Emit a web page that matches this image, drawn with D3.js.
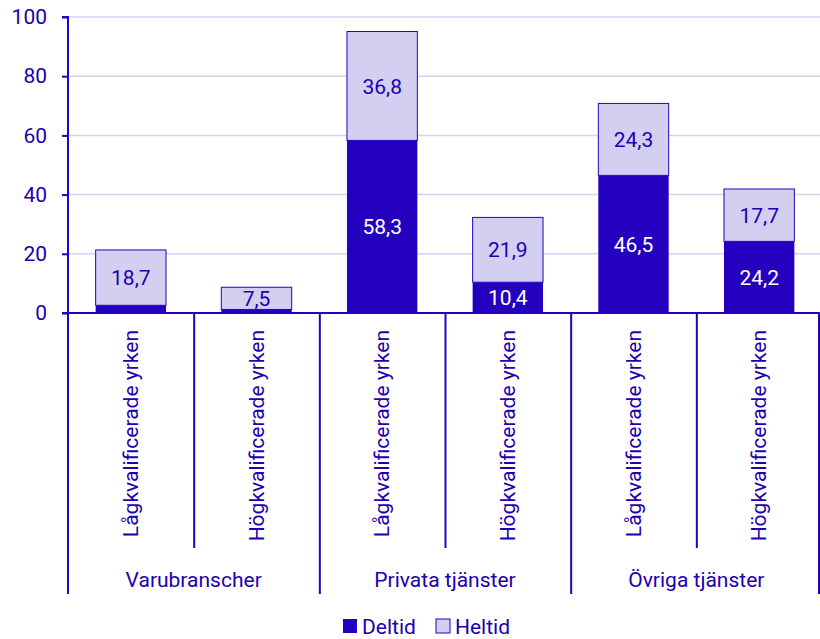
<!DOCTYPE html>
<html>
<head>
<meta charset="utf-8">
<script src="https://cdn.jsdelivr.net/npm/d3@7"></script>
<style>
  body { margin: 0; background: #fff; }
  text { font-family: Roboto, sans-serif; }
</style>
</head>
<body>
<div id="chart"></div>
<script>
var width = 820,
  height = 639,
  margin = { top: 17, right: 0, bottom: 326, left: 68 },
  fontSize = 21;

var groups = ['Varubranscher', 'Privata tjänster', 'Övriga tjänster'];
var occupations = ['Lågkvalificerade yrken', 'Högkvalificerade yrken'];
var deltid = [2.6, 1.2, 58.3, 10.4, 46.5, 24.2];
var heltid = [18.7, 7.5, 36.8, 21.9, 24.3, 17.7];
var deltidLabels = [null, null, '58,3', '10,4', '46,5', '24,2'];
var heltidLabels = ['18,7', '7,5', '36,8', '21,9', '24,3', '17,7'];
var yTicks = [0, 20, 40, 60, 80, 100];
var seriesNames = ['Deltid', 'Heltid'];

var dark = '#2400bf',
  light = '#d3cff0',
  textColor = '#2000b0',
  gridColor = '#d6d3f2';

// one row per bar
var rows = [];
groups.forEach(function (g, gi) {
  occupations.forEach(function (o, oi) {
    var i = gi * occupations.length + oi;
    rows.push({ key: g + '|' + o, group: g, occ: o, Deltid: deltid[i], Heltid: heltid[i], i: i });
  });
});

var series = d3.stack().keys(seriesNames)(rows);

var svg = d3.select('#chart').append('svg')
  .attr('width', width)
  .attr('height', height);

var plotH = height - margin.top - margin.bottom;
var x = d3.scaleBand()
  .domain(rows.map(function (d) { return d.key; }))
  .range([margin.left, width + 2])
  .paddingInner(0.44)
  .paddingOuter(0.22);

var y = d3.scaleLinear()
  .domain([0, 100])
  .range([margin.top + plotH, margin.top]);

var y0 = y(0);
var step = x.step();

// gridlines
svg.append('g').selectAll('line')
  .data(yTicks.filter(function (t) { return t > 0; }))
  .enter().append('line')
  .attr('x1', margin.left).attr('x2', width)
  .attr('y1', function (d) { return y(d); })
  .attr('y2', function (d) { return y(d); })
  .attr('stroke', gridColor)
  .attr('stroke-width', 1.5);

// bars
var layer = svg.selectAll('g.layer')
  .data(series)
  .enter().append('g')
  .attr('class', 'layer');

layer.selectAll('rect')
  .data(function (s) { return s.map(function (d) { return { s: s.key, d: d }; }); })
  .enter().append('rect')
  .attr('x', function (e) { return x(e.d.data.key); })
  .attr('width', x.bandwidth())
  .attr('y', function (e) { return y(e.d[1]); })
  .attr('height', function (e) { return y(e.d[0]) - y(e.d[1]); })
  .attr('fill', function (e) { return e.s === 'Deltid' ? dark : light; })
  .attr('stroke', dark)
  .attr('stroke-width', function (e) { return e.s === 'Deltid' ? 0 : 1; });

// value labels
layer.selectAll('text')
  .data(function (s) { return s.map(function (d) { return { s: s.key, d: d }; }); })
  .enter().append('text')
  .attr('x', function (e) { return x(e.d.data.key) + x.bandwidth() / 2; })
  .attr('y', function (e) { return (y(e.d[0]) + y(e.d[1])) / 2; })
  .attr('dy', '0.36em')
  .attr('text-anchor', 'middle')
  .attr('font-size', fontSize)
  .attr('fill', function (e) { return e.s === 'Deltid' ? '#fff' : textColor; })
  .text(function (e) {
    return e.s === 'Deltid' ? deltidLabels[e.d.data.i] : heltidLabels[e.d.data.i];
  });

// y axis
var yAxis = d3.axisLeft(y).tickValues(yTicks).tickSize(6).tickPadding(15);
var gy = svg.append('g')
  .attr('transform', 'translate(' + margin.left + ',0)')
  .call(yAxis);
gy.select('.domain').attr('stroke', dark).attr('stroke-width', 2)
  .attr('d', 'M-6,' + y(100) + 'H0V' + y0);
gy.selectAll('.tick line').attr('stroke', dark).attr('stroke-width', 2);
gy.selectAll('.tick text').attr('fill', textColor).attr('font-size', fontSize)
  .attr('font-family', 'Roboto, sans-serif');

// x axis baseline
svg.append('line')
  .attr('x1', margin.left - 6).attr('x2', width)
  .attr('y1', y0).attr('y2', y0)
  .attr('stroke', dark).attr('stroke-width', 2);

// separators between bars (short) and groups (long)
var subEnd = 548, groupEnd = 594;
for (var k = 0; k <= rows.length; k++) {
  var sx = k < rows.length ? x(rows[k].key) - step * 0.44 / 2 + 0.5 : width - 1;
  if (k === 0) sx = margin.left;
  svg.append('line')
    .attr('x1', sx).attr('x2', sx)
    .attr('y1', y0).attr('y2', k % 2 === 0 ? groupEnd : subEnd)
    .attr('stroke', dark).attr('stroke-width', 2);
}

// occupation labels (rotated)
svg.append('g').selectAll('text')
  .data(rows)
  .enter().append('text')
  .attr('transform', function (d) {
    return 'translate(' + (x(d.key) + x.bandwidth() / 2 + 7) + ',' + (y0 + 17) + ') rotate(-90)';
  })
  .attr('text-anchor', 'end')
  .attr('font-size', fontSize)
  .attr('fill', textColor)
  .text(function (d) { return d.occ; });

// group labels
svg.append('g').selectAll('text')
  .data(groups)
  .enter().append('text')
  .attr('x', function (g, gi) {
    var a = x(rows[gi * 2].key), b = x(rows[gi * 2 + 1].key) + x.bandwidth();
    return (a + b) / 2;
  })
  .attr('y', 587)
  .attr('text-anchor', 'middle')
  .attr('font-size', fontSize)
  .attr('fill', textColor)
  .text(function (g) { return g; });

// legend
var legend = svg.append('g').attr('transform', 'translate(343,619)');
var legendX = [0, 93];
seriesNames.forEach(function (n, i) {
  legend.append('rect')
    .attr('x', legendX[i]).attr('y', 0)
    .attr('width', 14).attr('height', 14)
    .attr('fill', i === 0 ? dark : light)
    .attr('stroke', dark).attr('stroke-width', i === 0 ? 0 : 1);
  legend.append('text')
    .attr('x', legendX[i] + 19).attr('y', 7)
    .attr('dy', '0.36em')
    .attr('font-size', fontSize)
    .attr('fill', textColor)
    .text(n);
});
</script>
</body>
</html>
